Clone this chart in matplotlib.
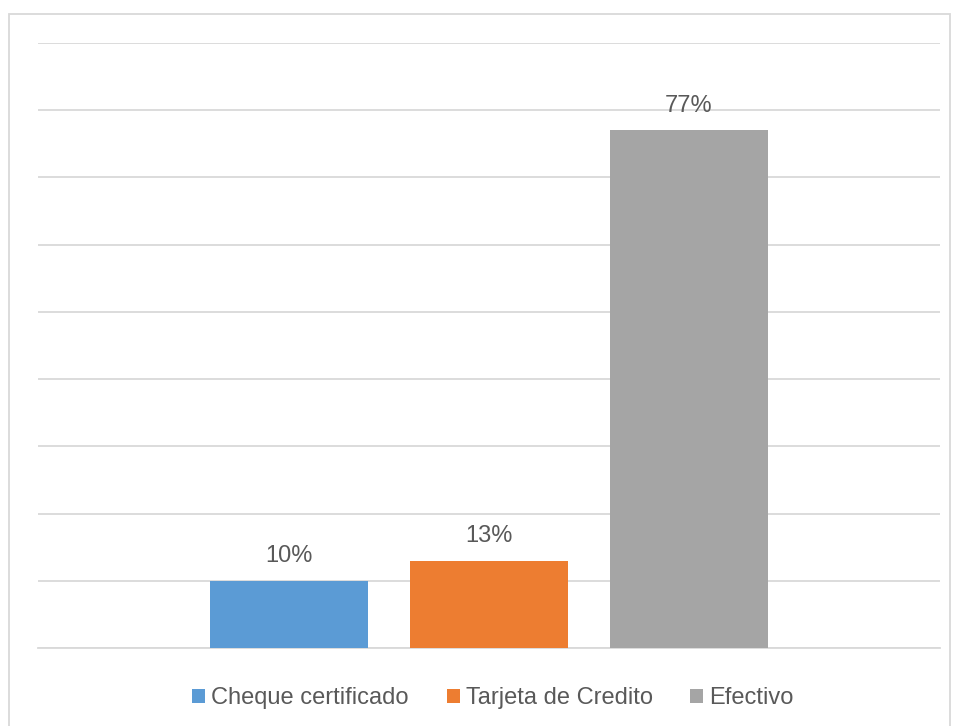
import matplotlib
matplotlib.use('Agg')
import matplotlib.pyplot as plt
from matplotlib.patches import Rectangle, Patch

# Payment method shares
categories = ['Cheque certificado', 'Tarjeta de Credito', 'Efectivo']
shares = [10, 13, 77]
colors = ['#5B9BD5', '#ED7D31', '#A5A5A5']

plt.rcParams['font.family'] = ['Liberation Sans', 'DejaVu Sans']
text_color = '#595959'

fig = plt.figure(figsize=(9.55, 7.26), dpi=100)
ax = fig.add_axes([38 / 955, 78 / 726, 902 / 955, 605 / 726])

positions = range(len(categories))
bars = ax.bar(positions, shares, width=0.79, color=colors, zorder=3)

for bar, val in zip(bars, shares):
    ax.text(bar.get_x() + bar.get_width() / 2, val + 2.0, f'{val}%',
            ha='center', va='bottom', fontsize=17, color=text_color)

ax.set_xlim(-1.255, 3.255)
ax.set_ylim(0, 90)
ax.set_yticks(range(0, 91, 10))
ax.yaxis.grid(True, color='#D9D9D9', linewidth=1.3, zorder=0)
ax.tick_params(left=False, bottom=False, labelleft=False, labelbottom=False)
for side in ['left', 'right', 'top']:
    ax.spines[side].set_visible(False)
ax.spines['bottom'].set_color('#D9D9D9')
ax.spines['bottom'].set_linewidth(1.3)

# Outer chart border
fig.patches.append(Rectangle((9 / 955, -0.01), 941 / 955, 712 / 726 + 0.01,
                             transform=fig.transFigure, fill=False,
                             edgecolor='#D9D9D9', linewidth=1.3))

handles = [Patch(facecolor=c, edgecolor='none') for c in colors]
fig.legend(handles, categories, loc='center', bbox_to_anchor=(493 / 955, 28 / 726),
           ncol=3, frameon=False, fontsize=17, labelcolor=text_color,
           handlelength=0.55, handleheight=0.55, handletextpad=0.25,
           columnspacing=1.6)

fig.savefig('out.png', dpi=100)
